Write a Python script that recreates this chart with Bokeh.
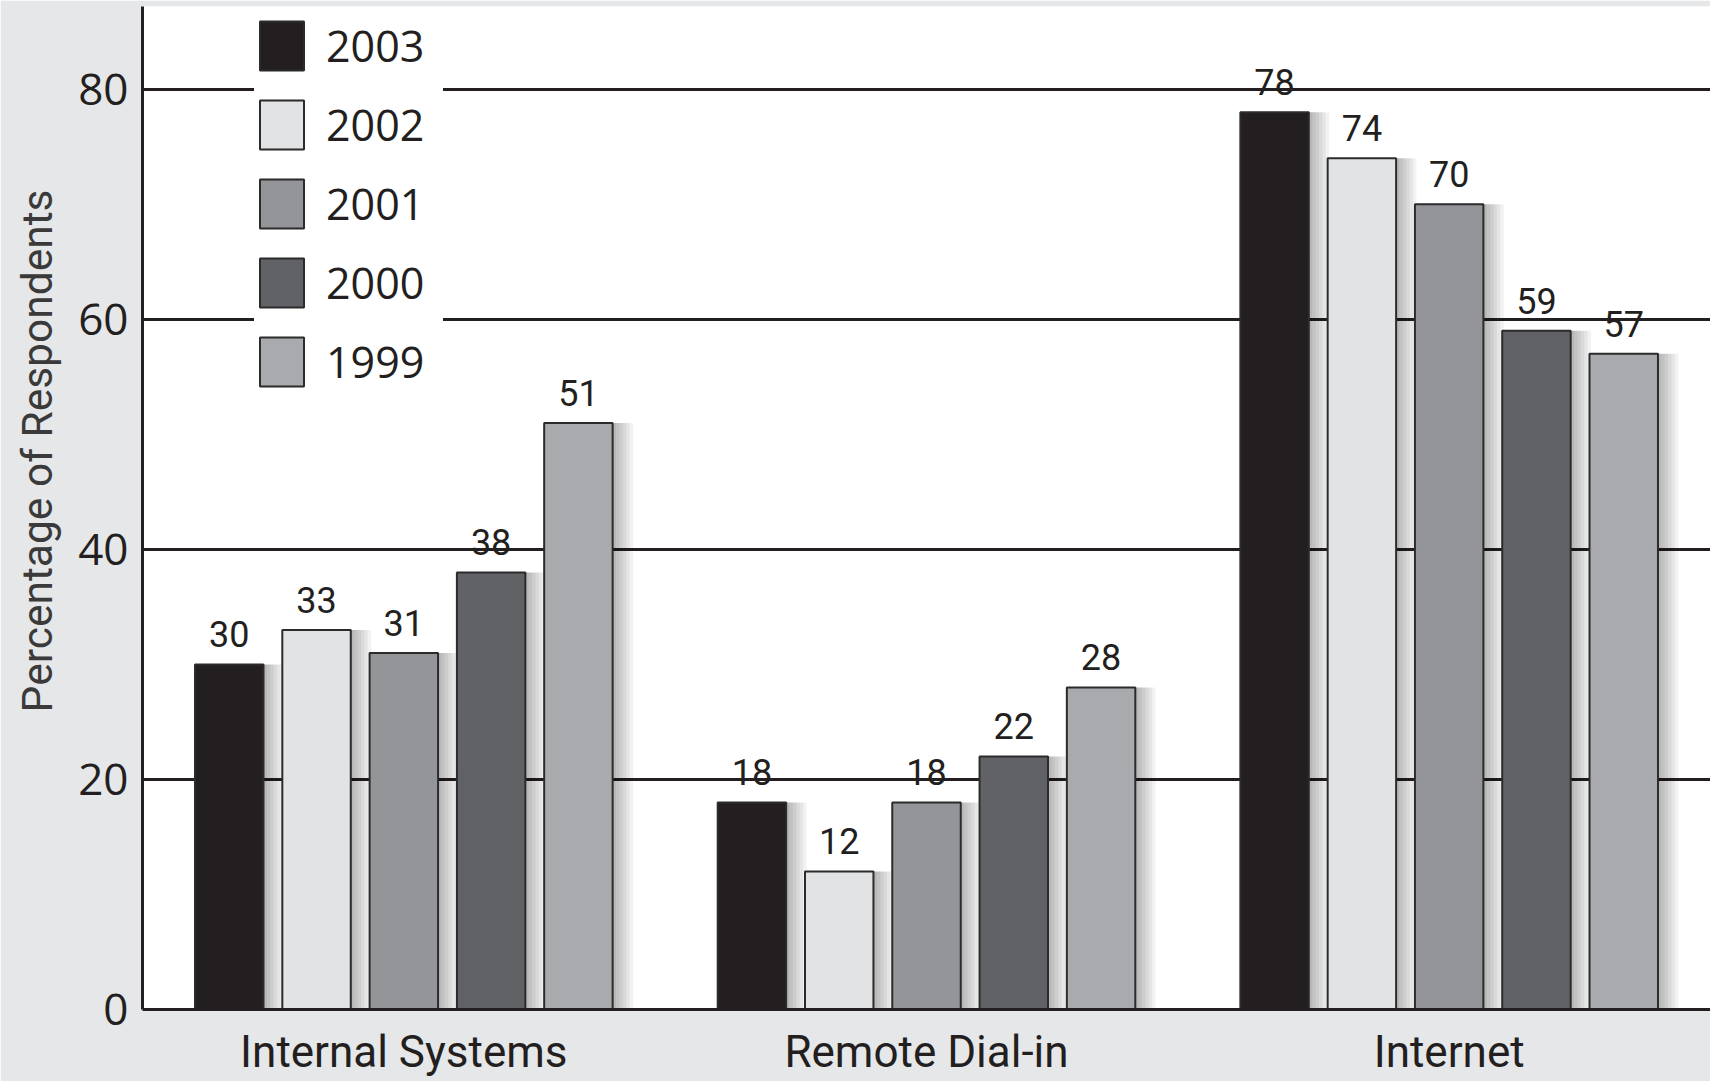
import math
from bokeh.plotting import figure
from bokeh.models import ColumnDataSource, FactorRange, FixedTicker, Legend, LegendItem, Title
from bokeh.transform import dodge
from bokeh.core.properties import value
from bokeh.embed import file_html
from bokeh.resources import INLINE

# ---- data ----
categories = ["Internal Systems", "Remote Dial-in", "Internet"]
years = ["2003", "2002", "2001", "2000", "1999"]
v2003 = [30, 18, 78]
v2002 = [33, 12, 74]
v2001 = [31, 18, 70]
v2000 = [38, 22, 59]
v1999 = [51, 28, 57]
y_ticks = [0, 20, 40, 60, 80]
y_title = "Percentage of Respondents"

series = [v2003, v2002, v2001, v2000, v1999]
colors = ["#231f20", "#e2e3e5", "#939598", "#616265", "#a8aaad"]

INK = "#231f20"

p = figure(x_range=FactorRange(*categories), y_range=(0, 87.2),
           width=1710, height=1081, output_backend="svg", toolbar_location=None,
           min_border_left=142, min_border_right=0, min_border_top=6, min_border_bottom=72)
p.background_fill_color = "white"
p.border_fill_color = "#e6e7e9"
p.outline_line_color = None

step = 0.167
bw = 0.131
offsets = [(i - 2) * step for i in range(5)]

# soft shadows
for i, vals in enumerate(series):
    src = ColumnDataSource(dict(cat=categories, val=vals))
    for k in range(1, 7):
        p.vbar(x=dodge("cat", offsets[i] + k * 0.0065, range=p.x_range), top="val",
               width=bw, source=src, fill_color="black", fill_alpha=0.05, line_color=None)

renderers = []
for i, vals in enumerate(series):
    src = ColumnDataSource(dict(cat=categories, val=vals, lab=[str(v) for v in vals]))
    r = p.vbar(x=dodge("cat", offsets[i], range=p.x_range), top="val", width=bw, source=src,
               fill_color=colors[i], line_color="#2b2b2b", line_width=2)
    renderers.append(r)
    p.text(x=dodge("cat", offsets[i], range=p.x_range), y="val", text="lab", source=src,
           text_align="center", text_baseline="middle", y_offset=-30,
           text_font=value("Roboto"), text_font_size="36px", text_color=INK)

legend = Legend(items=[LegendItem(label=y, renderers=[r]) for y, r in zip(years, renderers)],
                location=(112, 617), orientation="vertical",
                glyph_width=55, glyph_height=61, spacing=18, padding=22,
                label_standoff=17, label_width=117,
                label_text_font="Open Sans", label_text_font_size="43px",
                label_text_color=INK, label_text_baseline="middle",
                background_fill_color="white", background_fill_alpha=1.0,
                border_line_color=None)
p.add_layout(legend, "center")

p.yaxis.ticker = FixedTicker(ticks=y_ticks)
p.ygrid.ticker = FixedTicker(ticks=y_ticks)
p.ygrid.grid_line_color = INK
p.ygrid.grid_line_width = 3
p.xgrid.grid_line_color = None

p.yaxis.axis_line_width = 3
p.yaxis.axis_line_color = INK
p.yaxis.major_tick_line_color = None
p.yaxis.minor_tick_line_color = None
p.yaxis.major_tick_out = 0
p.yaxis.major_label_text_font = "Open Sans"
p.yaxis.major_label_text_font_size = "44px"
p.yaxis.major_label_text_color = INK
p.yaxis.major_label_standoff = 14

p.xaxis.axis_line_width = 3
p.xaxis.axis_line_color = INK
p.xaxis.major_tick_line_color = None
p.xaxis.minor_tick_line_color = None
p.xaxis.major_tick_out = 0
p.xaxis.major_label_text_font = "Roboto"
p.xaxis.major_label_text_font_size = "44px"
p.xaxis.major_label_text_color = INK
p.xaxis.major_label_standoff = 16

p.add_layout(Title(text=y_title, align="right", offset=183, vertical_align="top", standoff=24,
                   text_font="Roboto", text_font_size="42.5px", text_font_style="normal",
                   text_color="#3a3a3a"), "left")

open("out.html", "w").write(file_html(p, INLINE))
